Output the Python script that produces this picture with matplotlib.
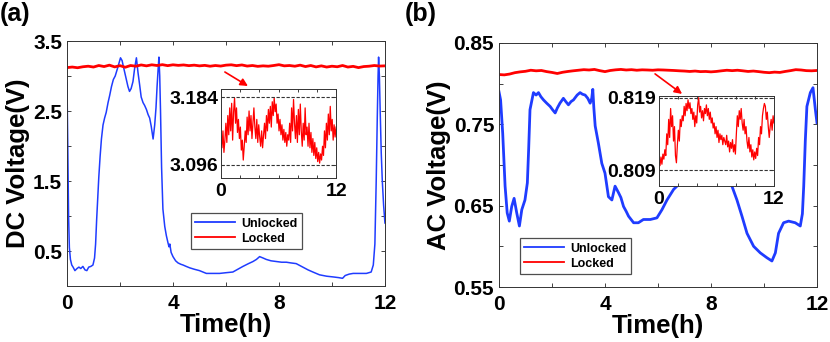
import numpy as np
import matplotlib
matplotlib.use("Agg")
import matplotlib.pyplot as plt

plt.rcParams["font.family"] = ["Liberation Sans", "DejaVu Sans"]
plt.rcParams["font.weight"] = "bold"

blue = "#1f3cff"
red = "#ff0000"

# ---- panel (a): DC voltage ----
dc_unlocked_t = [0.00, 0.03, 0.06, 0.09, 0.13, 0.18, 0.23, 0.30, 0.38, 0.45,
                 0.52, 0.60, 0.68, 0.75, 0.82, 0.90, 0.98, 1.04, 1.08, 1.12,
                 1.16, 1.20, 1.25, 1.30, 1.36, 1.42, 1.48, 1.55, 1.61, 1.68,
                 1.75, 1.82, 1.90, 1.96, 2.02, 2.08, 2.12, 2.18, 2.24, 2.30,
                 2.36, 2.42, 2.49, 2.55, 2.62, 2.68, 2.74, 2.80, 2.87, 2.93,
                 3.00, 3.06, 3.12, 3.18, 3.25, 3.31, 3.36, 3.40, 3.44, 3.47,
                 3.50, 3.53, 3.57, 3.62, 3.69, 3.75, 3.81, 3.85, 3.88, 3.93,
                 4.00, 4.10, 4.19, 4.30, 4.38, 4.50, 4.63, 4.80, 5.00, 5.26,
                 5.50, 5.76, 6.00, 6.26, 6.45, 6.64, 6.85, 7.02, 7.15, 7.27,
                 7.40, 7.52, 7.70, 7.90, 8.10, 8.28, 8.45, 8.65, 8.90, 9.10,
                 9.28, 9.53, 9.80, 10.04, 10.25, 10.40, 10.50, 10.65, 10.80, 11.00,
                 11.30, 11.48, 11.56, 11.62, 11.67, 11.71, 11.74, 11.76, 11.79, 11.82,
                 11.86, 11.90, 11.95, 12.00]
dc_unlocked_v = [2.90, 2.00, 1.00, 0.55, 0.38, 0.30, 0.27, 0.22, 0.25, 0.27,
                 0.25, 0.28, 0.23, 0.22, 0.27, 0.28, 0.30, 0.40, 0.60, 0.95,
                 1.25, 1.55, 1.85, 2.10, 2.30, 2.40, 2.48, 2.62, 2.72, 2.85,
                 2.95, 3.00, 3.10, 3.18, 3.26, 3.22, 3.15, 3.05, 2.95, 2.85,
                 2.78, 2.82, 2.92, 3.10, 3.26, 3.05, 2.88, 2.70, 2.62, 2.58,
                 2.52, 2.45, 2.40, 2.28, 2.10, 2.30, 2.55, 2.85, 3.10, 3.27,
                 3.00, 2.50, 1.70, 1.10, 0.85, 0.72, 0.62, 0.56, 0.60, 0.48,
                 0.42, 0.36, 0.33, 0.31, 0.30, 0.28, 0.26, 0.24, 0.22, 0.18,
                 0.18, 0.18, 0.19, 0.20, 0.24, 0.28, 0.32, 0.35, 0.38, 0.42,
                 0.40, 0.38, 0.36, 0.35, 0.34, 0.34, 0.33, 0.32, 0.27, 0.23,
                 0.20, 0.16, 0.14, 0.13, 0.12, 0.11, 0.15, 0.17, 0.18, 0.18,
                 0.18, 0.20, 0.30, 0.60, 1.50, 2.40, 3.00, 3.27, 3.00, 2.50,
                 1.90, 1.50, 1.15, 0.90]
dc_locked_v = [3.120, 3.128, 3.118, 3.132, 3.140, 3.128, 3.150, 3.135, 3.155, 3.130,
               3.148, 3.125, 3.150, 3.140, 3.158, 3.145, 3.160, 3.150, 3.162, 3.148,
               3.160, 3.152, 3.158, 3.148, 3.155, 3.145, 3.152, 3.140, 3.150, 3.142,
               3.155, 3.160, 3.148, 3.158, 3.142, 3.150, 3.138, 3.145, 3.140, 3.150,
               3.162, 3.145, 3.150, 3.140, 3.155, 3.135, 3.150, 3.130, 3.145, 3.128,
               3.140, 3.132, 3.150, 3.128, 3.138, 3.120, 3.135, 3.140, 3.150, 3.142,
               3.145]
dc_inset_v = [3.132, 3.118, 3.140, 3.112, 3.128, 3.150, 3.125, 3.160, 3.135, 3.170,
              3.140, 3.176, 3.128, 3.165, 3.183, 3.150, 3.170, 3.138, 3.155, 3.130,
              3.145, 3.115, 3.128, 3.102, 3.120, 3.140, 3.125, 3.158, 3.135, 3.166,
              3.140, 3.160, 3.130, 3.150, 3.170, 3.145, 3.130, 3.155, 3.125, 3.148,
              3.132, 3.120, 3.140, 3.118, 3.135, 3.150, 3.130, 3.160, 3.140, 3.168,
              3.150, 3.172, 3.145, 3.178, 3.160, 3.183, 3.165, 3.175, 3.150, 3.162,
              3.140, 3.155, 3.135, 3.148, 3.128, 3.142, 3.125, 3.138, 3.120, 3.135,
              3.128, 3.150, 3.125, 3.170, 3.140, 3.181, 3.150, 3.130, 3.160, 3.125,
              3.168, 3.135, 3.175, 3.140, 3.120, 3.150, 3.128, 3.170, 3.135, 3.145,
              3.120, 3.150, 3.118, 3.138, 3.112, 3.130, 3.108, 3.125, 3.104, 3.118,
              3.100, 3.112, 3.098, 3.110, 3.102, 3.120, 3.108, 3.140, 3.118, 3.150,
              3.128, 3.162, 3.135, 3.172, 3.140, 3.155, 3.128, 3.148, 3.132, 3.145]

# ---- panel (b): AC voltage ----
ac_unlocked_t = [0.00, 0.06, 0.14, 0.23, 0.31, 0.39, 0.48, 0.57, 0.67, 0.77,
                 0.86, 0.98, 1.07, 1.12, 1.17, 1.30, 1.40, 1.49, 1.58, 1.68,
                 1.80, 1.93, 2.02, 2.12, 2.20, 2.30, 2.43, 2.52, 2.62, 2.72,
                 2.81, 2.95, 3.06, 3.15, 3.25, 3.35, 3.44, 3.50, 3.54, 3.58,
                 3.63, 3.75, 3.88, 4.00, 4.13, 4.26, 4.38, 4.51, 4.60, 4.70,
                 4.80, 4.89, 5.08, 5.26, 5.45, 5.71, 5.96, 6.15, 6.34, 6.59,
                 6.78, 7.00, 7.30, 7.60, 7.90, 8.20, 8.50, 8.79, 8.98, 9.17,
                 9.36, 9.61, 9.86, 10.11, 10.30, 10.43, 10.55, 10.74, 10.93, 11.18,
                 11.37, 11.45, 11.50, 11.56, 11.62, 11.75, 11.85, 11.94, 12.00]
ac_unlocked_v = [0.790, 0.780, 0.739, 0.674, 0.641, 0.631, 0.649, 0.659, 0.641, 0.625,
                 0.645, 0.657, 0.678, 0.720, 0.768, 0.789, 0.786, 0.789, 0.784, 0.780,
                 0.776, 0.772, 0.768, 0.764, 0.770, 0.776, 0.782, 0.778, 0.774, 0.778,
                 0.780, 0.786, 0.789, 0.787, 0.786, 0.782, 0.776, 0.782, 0.793, 0.770,
                 0.748, 0.727, 0.702, 0.690, 0.661, 0.657, 0.674, 0.666, 0.660, 0.649,
                 0.643, 0.637, 0.629, 0.629, 0.633, 0.633, 0.635, 0.645, 0.657, 0.670,
                 0.676, 0.690, 0.705, 0.712, 0.715, 0.708, 0.695, 0.674, 0.657, 0.637,
                 0.616, 0.600, 0.592, 0.586, 0.582, 0.592, 0.616, 0.629, 0.631, 0.629,
                 0.625, 0.640, 0.674, 0.730, 0.772, 0.789, 0.795, 0.768, 0.752]
ac_locked_v = [0.8112, 0.8108, 0.8118, 0.8135, 0.8145, 0.8152, 0.8165, 0.8158, 0.8162, 0.8148,
               0.8138, 0.8125, 0.8140, 0.8150, 0.8158, 0.8165, 0.8172, 0.8168, 0.8175, 0.8160,
               0.8148, 0.8162, 0.8170, 0.8175, 0.8168, 0.8172, 0.8165, 0.8170, 0.8168, 0.8165,
               0.8170, 0.8168, 0.8165, 0.8162, 0.8158, 0.8155, 0.8150, 0.8155, 0.8148, 0.8150,
               0.8145, 0.8150, 0.8158, 0.8165, 0.8160, 0.8165, 0.8158, 0.8150, 0.8155, 0.8148,
               0.8140, 0.8135, 0.8142, 0.8138, 0.8150, 0.8160, 0.8172, 0.8168, 0.8160, 0.8158,
               0.8162]
ac_inset_v = [0.8100, 0.8096, 0.8108, 0.8098, 0.8112, 0.8105, 0.8118, 0.8110, 0.8140, 0.8125,
              0.8160, 0.8135, 0.8175, 0.8150, 0.8165, 0.8130, 0.8150, 0.8110, 0.8100, 0.8125,
              0.8145, 0.8130, 0.8160, 0.8150, 0.8165, 0.8158, 0.8178, 0.8165, 0.8182, 0.8172,
              0.8187, 0.8175, 0.8183, 0.8168, 0.8175, 0.8160, 0.8170, 0.8150, 0.8165, 0.8155,
              0.8180, 0.8190, 0.8170, 0.8178, 0.8162, 0.8172, 0.8158, 0.8175, 0.8168, 0.8180,
              0.8165, 0.8175, 0.8160, 0.8170, 0.8155, 0.8162, 0.8148, 0.8155, 0.8140, 0.8150,
              0.8135, 0.8145, 0.8128, 0.8140, 0.8132, 0.8138, 0.8125, 0.8135, 0.8130, 0.8125,
              0.8138, 0.8122, 0.8130, 0.8115, 0.8128, 0.8120, 0.8132, 0.8115, 0.8125, 0.8112,
              0.8140, 0.8165, 0.8150, 0.8172, 0.8160, 0.8175, 0.8155, 0.8145, 0.8160, 0.8140,
              0.8150, 0.8130, 0.8120, 0.8135, 0.8115, 0.8125, 0.8108, 0.8118, 0.8104, 0.8115,
              0.8106, 0.8120, 0.8110, 0.8135, 0.8125, 0.8150, 0.8140, 0.8165, 0.8175, 0.8182,
              0.8178, 0.8160, 0.8170, 0.8150, 0.8135, 0.8150, 0.8160, 0.8145, 0.8165, 0.8155]


def style_axes(ax, labelsize):
    ax.tick_params(direction="in", top=True, right=True, length=3, width=0.6,
                   labelsize=labelsize, colors="#222222", labelcolor="black")
    for s in ax.spines.values():
        s.set_linewidth(0.7)
        s.set_color("#333333")


fig = plt.figure(figsize=(8.3, 3.42), dpi=100)

panels = [
    dict(rect=[0.0807, 0.1637, 0.3831, 0.7164], inset=[0.2663, 0.4795, 0.1386, 0.2602],
         t=dc_unlocked_t, v=dc_unlocked_v, lock=dc_locked_v, ins=dc_inset_v,
         ylim=(0, 3.5), yticks=[0.5, 1.0, 1.5, 2.0, 2.5, 3.0, 3.5],
         ylabels=["0.5", "", "1.5", "", "2.5", "", "3.5"], ylabel="DC Voltage(V)",
         ins_ylim=(3.0786, 3.1946), ins_lines=[3.096, 3.184], ins_fmt="{:.3f}",
         legend=(0.39, 0.151), arrow=((5.96, 3.057), (6.83, 2.857)),
         tag="(a)", tagx=0.0, blue_lw=1.1),
    dict(rect=[0.6012, 0.1608, 0.3831, 0.7135], inset=[0.7940, 0.4561, 0.1386, 0.2632],
         t=ac_unlocked_t, v=ac_unlocked_v, lock=ac_locked_v, ins=ac_inset_v,
         ylim=(0.55, 0.85), yticks=[0.55, 0.60, 0.65, 0.70, 0.75, 0.80, 0.85],
         ylabels=["0.55", "", "0.65", "", "0.75", "", "0.85"], ylabel="AC Voltage(V)",
         ins_ylim=(0.80679, 0.81923), ins_lines=[0.809, 0.819], ins_fmt="{:.3f}",
         legend=(0.066, 0.053), arrow=((5.89, 0.812), (6.91, 0.7874)),
         tag="(b)", tagx=0.488, blue_lw=2.0),
]

for p in panels:
    ax = fig.add_axes(p["rect"])
    lock_t = np.linspace(0, 12, len(p["lock"]))
    ax.plot(p["t"], p["v"], color=blue, lw=p["blue_lw"], label="Unlocked")
    ax.plot(lock_t, p["lock"], color=red, lw=2.0, label="Locked")
    ax.set_xlim(0, 12)
    ax.set_ylim(*p["ylim"])
    ax.set_xticks([0, 2, 4, 6, 8, 10, 12])
    ax.set_xticklabels(["0", "", "4", "", "8", "", "12"])
    ax.set_yticks(p["yticks"])
    ax.set_yticklabels(p["ylabels"])
    style_axes(ax, 15)
    ax.tick_params(axis="x", pad=6)
    ax.set_xlabel("Time(h)", fontsize=18.5, fontweight="bold", labelpad=0)
    ax.set_ylabel(p["ylabel"], fontsize=18.5, fontweight="bold", labelpad=2)
    leg = ax.legend(loc="lower left", bbox_to_anchor=p["legend"], borderaxespad=0,
                    fancybox=False, edgecolor="#222222", fontsize=9, handlelength=3.2,
                    borderpad=0.35, labelspacing=0.25, handletextpad=0.5)
    leg.get_frame().set_linewidth(0.9)
    for ln in leg.get_lines():
        ln.set_linewidth(1.3)
    ax.annotate("", xy=p["arrow"][1], xytext=p["arrow"][0],
                arrowprops=dict(arrowstyle="-|>", color=red, lw=1.2,
                                mutation_scale=11, shrinkA=0, shrinkB=0))
    fig.text(p["tagx"], 0.995, p["tag"], fontsize=18, fontweight="bold", va="top")

    ia = fig.add_axes(p["inset"])
    ins_t = np.linspace(0, 12, len(p["ins"]))
    ia.plot(ins_t, p["ins"], color=red, lw=0.9)
    for yl in p["ins_lines"]:
        ia.axhline(yl, color="#333333", lw=0.8, ls=(0, (3, 1.5)))
    ia.set_xlim(0, 12)
    ia.set_ylim(*p["ins_ylim"])
    ia.set_xticks([0, 2, 4, 6, 8, 10, 12])
    ia.set_xticklabels(["0", "", "", "", "", "", "12"])
    ia.set_yticks(p["ins_lines"])
    ia.set_yticklabels([p["ins_fmt"].format(y) for y in p["ins_lines"]])
    style_axes(ia, 14)
    ia.tick_params(length=2.5)
    ia.tick_params(axis="y", pad=2)

fig.savefig("out.png", dpi=100)
